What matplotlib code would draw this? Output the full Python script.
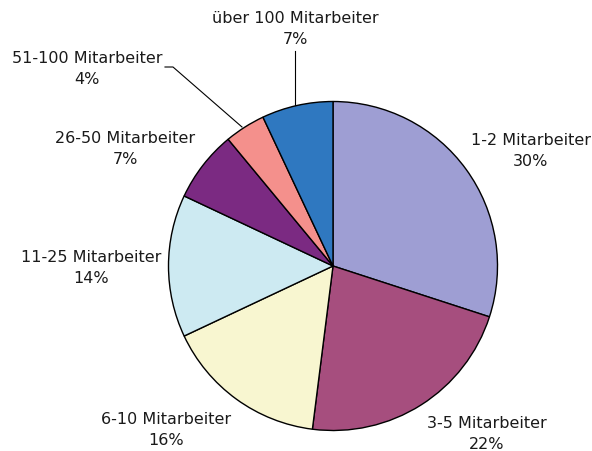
import matplotlib
matplotlib.use("Agg")
import matplotlib.pyplot as plt

# Data
categories = ["1-2 Mitarbeiter", "3-5 Mitarbeiter", "6-10 Mitarbeiter",
              "11-25 Mitarbeiter", "26-50 Mitarbeiter", "51-100 Mitarbeiter",
              "über 100 Mitarbeiter"]
values = [30, 22, 16, 14, 7, 4, 7]

# Styling / layout
colors = ["#9E9ED3", "#A64E7E", "#F8F6D0", "#CDEAF2", "#7B2A82", "#F4908C", "#2F78C0"]
W, H = 592, 452
center_px = (333, 267)
radius_px = 164.5
# label centres in pixel coordinates (x, y from top)
label_pos = [(531, 151), (487, 434), (166, 430), (91, 268),
             (125, 149), (87, 69), (295, 29)]
# leader lines in pixel coordinates
leaders = {5: [(165, 68), (173, 68), (242, 128)],
           6: [(295, 52), (295, 106)]}

plt.rcParams['font.family'] = ['DejaVu Sans']
fig = plt.figure(figsize=(W / 100, H / 100), dpi=100)
ax = fig.add_axes([0, 0, 1, 1])

ax.pie(values, colors=colors, startangle=90, counterclock=False,
       center=(center_px[0], H - center_px[1]), radius=radius_px,
       wedgeprops=dict(edgecolor='black', linewidth=1.0), frame=True)
ax.set_xlim(0, W)
ax.set_ylim(0, H)
ax.set_aspect('equal')
ax.axis('off')

for i, (cat, v) in enumerate(zip(categories, values)):
    x, y = label_pos[i]
    ax.text(x, H - y, f"{cat}\n{v}%", ha='center', va='center',
            fontsize=11.5, color='#1a1a1a', linespacing=1.45)

for i, pts in leaders.items():
    xs = [p[0] for p in pts]
    ys = [H - p[1] for p in pts]
    ax.plot(xs, ys, color='black', linewidth=0.8)

fig.savefig("out.png", dpi=100)
